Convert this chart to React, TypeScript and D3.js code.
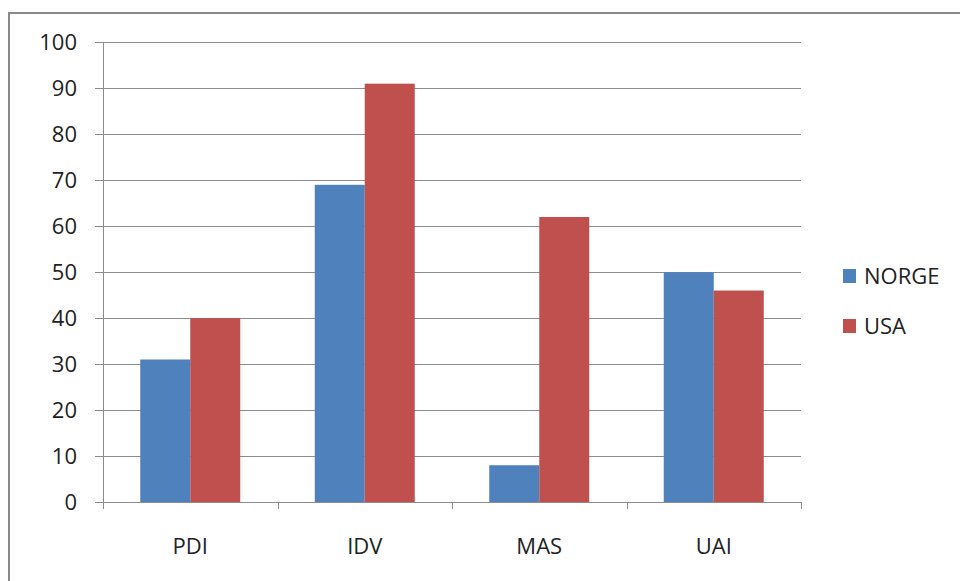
// Grouped bar chart: Hofstede dimensions, Norge vs USA.
// Plain SVG with D3 scales, Excel-2007 style look.

import * as d3 from "d3";

const categories = ["PDI", "IDV", "MAS", "UAI"];
const series = ["NORGE", "USA"];
const norge = [31, 69, 8, 50];
const usa = [40, 91, 62, 46];
const yTicks = [0, 10, 20, 30, 40, 50, 60, 70, 80, 90, 100];

const COLORS = ["#4F81BD", "#C0504D"];
const FONT = "'Open Sans', 'Liberation Sans', sans-serif";

const W = 960;
const H = 581;
const plot = { left: 103, right: 801, top: 42.3, bottom: 502 };

export default function App() {
  const values = [norge, usa];

  const x = d3
    .scaleBand<string>()
    .domain(categories)
    .range([plot.left, plot.right])
    .paddingInner(0)
    .paddingOuter(0);

  // inner band: ~100px of bars centred in each ~174px category
  const inner = d3
    .scaleBand<string>()
    .domain(series)
    .range([0, x.bandwidth()])
    .paddingOuter(0.745)
    .paddingInner(0);

  const y = d3.scaleLinear().domain([0, 100]).range([plot.bottom, plot.top]);

  const boundaries = [...categories.map((c) => x(c) as number), plot.right];

  return (
    <div style={{ position: "fixed", left: 0, top: 0 }}>
      <svg width={W} height={H} style={{ display: "block", background: "#fff" }}>
        {/* chart frame, runs past the right and bottom edges */}
        <rect x={9} y={13} width={W + 20} height={H + 20} fill="#fff" stroke="#8a8a8a" strokeWidth={2} />

        {/* gridlines + y tick marks */}
        {yTicks.map((t) => (
          <line
            key={t}
            x1={plot.left - 8}
            x2={plot.right}
            y1={Math.round(y(t)) + 0.5}
            y2={Math.round(y(t)) + 0.5}
            stroke="#8c8c8c"
            strokeWidth={1}
          />
        ))}

        {/* bars */}
        {categories.map((c, ci) =>
          series.map((s, si) => (
            <rect
              key={c + s}
              x={(x(c) as number) + (inner(s) as number)}
              y={y(values[si][ci])}
              width={inner.bandwidth()}
              height={plot.bottom - y(values[si][ci])}
              fill={COLORS[si]}
            />
          ))
        )}

        {/* axes */}
        <line x1={plot.left + 0.5} x2={plot.left + 0.5} y1={plot.top} y2={plot.bottom + 7} stroke="#8c8c8c" />
        <line x1={plot.left - 8} x2={plot.right} y1={plot.bottom + 0.5} y2={plot.bottom + 0.5} stroke="#8c8c8c" />
        {boundaries.map((b, i) => (
          <line
            key={i}
            x1={Math.round(b) + 0.5}
            x2={Math.round(b) + 0.5}
            y1={plot.bottom}
            y2={plot.bottom + 7}
            stroke="#8c8c8c"
          />
        ))}

        {/* y labels */}
        {yTicks.map((t) => (
          <text
            key={t}
            x={77}
            y={y(t)}
            dy="0.35em"
            textAnchor="end"
            fontFamily={FONT}
            fontSize={22}
            fill="#222"
          >
            {t}
          </text>
        ))}

        {/* category labels */}
        {categories.map((c) => (
          <text
            key={c}
            x={(x(c) as number) + x.bandwidth() / 2}
            y={546}
            dy="0.35em"
            textAnchor="middle"
            fontFamily={FONT}
            fontSize={22}
            fill="#222"
          >
            {c}
          </text>
        ))}

        {/* legend */}
        {series.map((s, i) => (
          <g key={s} transform={`translate(843, ${276 + i * 50})`}>
            <rect x={0} y={-7} width={13} height={14} fill={COLORS[i]} />
            <text x={21} y={0} dy="0.35em" fontFamily={FONT} fontSize={22} fill="#222">
              {s}
            </text>
          </g>
        ))}
      </svg>
    </div>
  );
}
